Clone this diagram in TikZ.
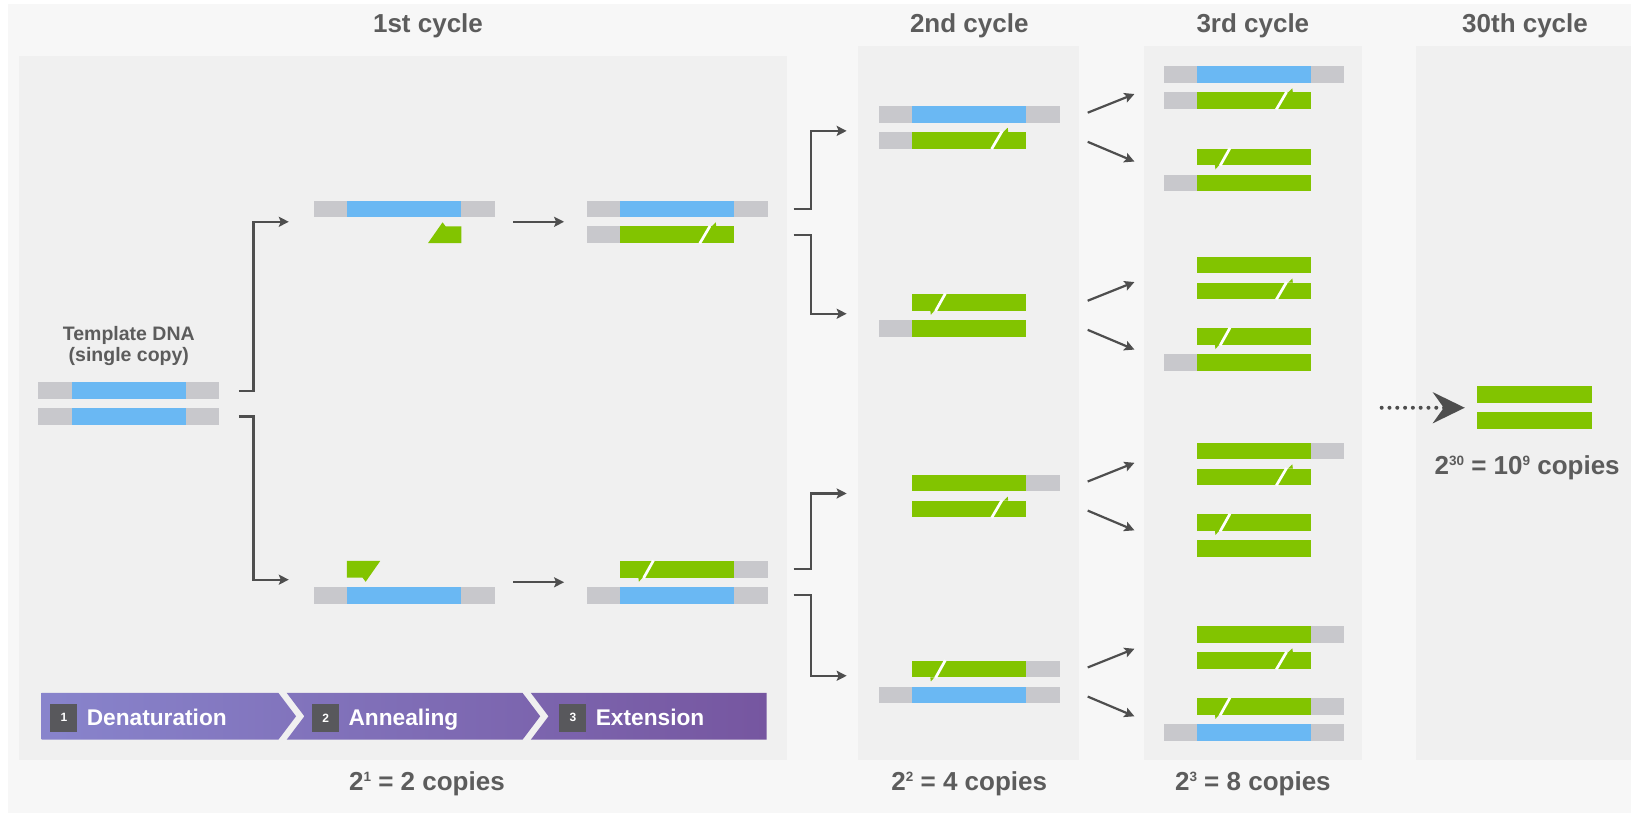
\documentclass[tikz,border=0pt]{standalone}
\usepackage{fontspec}
\setmainfont{Liberation Sans}
\usepackage{xcolor}
\usetikzlibrary{arrows.meta}
\usetikzlibrary{positioning}
\usetikzlibrary{calc}

\definecolor{dnablue}{RGB}{106,184,243}
\definecolor{dnagreen}{RGB}{130,196,0}
\definecolor{endgray}{RGB}{200,200,204}
\definecolor{panelgray}{RGB}{240,240,240}
\definecolor{pagegray}{RGB}{247,247,247}
\definecolor{labelgray}{RGB}{92,92,92}
\definecolor{arrowgray}{RGB}{78,78,78}
\definecolor{steplight}{RGB}{136,132,204}
\definecolor{stepdark}{RGB}{118,86,160}
\definecolor{stepbox}{RGB}{88,88,92}

% small raised digits
\newcommand{\sups}[1]{\raisebox{9pt}{\fontsize{13.5}{13.5}\selectfont #1}}
% one strand: #1 left end, #2 top, #3 grey left end, #4 colour, #5 grey right end
\newcommand{\strand}[5]{%
	\ifnum#3=1 \fill[endgray] (#1,#2) rectangle ++(32,16);\fi
	\fill[#4] (#1+32,#2) rectangle ++(110,16);
	\ifnum#5=1 \fill[endgray] (#1+142,#2) rectangle ++(32,16);\fi
}
% primer joined on the right, tip up
\newcommand{\cutR}[2]{%
	\draw[cutline] (#1+108.5,#2+16.5) -- (#1+118.5,#2-0.5);
	\fill[dnagreen] (#1+120,#2) -- (#1+124,#2-4) -- (#1+124.5,#2) -- cycle;
}
% primer joined on the left, tip down
\newcommand{\cutL}[2]{%
	\draw[cutline] (#1+64,#2-0.5) -- (#1+54.5,#2+16.5);
	\fill[dnagreen] (#1+53.5,#2+16) -- (#1+50,#2+20) -- (#1+49.5,#2+16) -- cycle;
}
% free primers
\newcommand{\primerR}[2]{%
	\fill[dnagreen] (#1+110,#2+16) -- (#1+124,#2-4) -- (#1+127,#2) -- (#1+142,#2) -- (#1+142,#2+16) -- cycle;
}
\newcommand{\primerL}[2]{%
	\fill[dnagreen] (#1+32,#2) -- (#1+64,#2) -- (#1+50,#2+20) -- (#1+47,#2+16) -- (#1+32,#2+16) -- cycle;
}

\begin{document}
\begin{tikzpicture}[x=1.039pt, y=-1.039pt,
		cyclehead/.style={font=\fontsize{26}{31}\selectfont\bfseries, text=labelgray},
		copylabel/.style={font=\fontsize{26}{31}\selectfont\bfseries, text=labelgray},
		numbox/.style={fill=stepbox, text=white, minimum width=27pt, minimum height=28pt, inner sep=0pt, font=\fontsize{12}{12}\selectfont\bfseries},
		steplabel/.style={text=white, inner sep=0pt, text height=16pt, text depth=0pt, font=\fontsize{22.7}{26}\selectfont\bfseries},
		conn/.style={draw=arrowgray, line width=2.2pt, -{Stealth[length=10pt,width=10pt,inset=2pt]}},
		cutline/.style={draw=white, line width=2.7pt},
	]
	% background and panels
	\useasboundingbox (0,0) rectangle (1570,782.5);
	\fill[white] (0,0) rectangle (1570,782.5);
	\fill[pagegray] (8,4) rectangle (1570,782.5);
	\fill[panelgray] (18,54) rectangle (758,732);
	\fill[panelgray] (826,44) rectangle (1039,732);
	\fill[panelgray] (1101,44) rectangle (1311,732);
	\fill[panelgray] (1363,44) rectangle (1570,732);
	
	% headings
	\node[cyclehead] (head1) at (412,25) {1st cycle};
	\node[cyclehead] (head2) at (933,25) {2nd cycle};
	\node[cyclehead] (head3) at (1206,25) {3rd cycle};
	\node[cyclehead] (head30) at (1468,25) {30th cycle};
	\node[copylabel] (copy1) at (411,754.5) {2\sups{1} = 2 copies};
	\node[copylabel] (copy2) at (933,754.5) {2\sups{2} = 4 copies};
	\node[copylabel] (copy3) at (1206,754.5) {2\sups{3} = 8 copies};
	\node[copylabel] (copy30) at (1470,450) {2\sups{30} = 10\sups{9} copies};
	
	% template
	\node[font=\fontsize{19.5}{21}\selectfont\bfseries, text=labelgray, align=center] (tmplabel) at (124,333.5) {Template DNA\\(single copy)};
	\strand{37}{368}{1}{dnablue}{1}
	\strand{37}{393}{1}{dnablue}{1}
	\coordinate (tmp) at (124,388.5);
	
	% annealing
	\strand{302}{193}{1}{dnablue}{1}
	\primerR{302}{218}
	\coordinate (ann1) at (389,213.5);
	\primerL{302}{540}
	\strand{302}{565}{1}{dnablue}{1}
	\coordinate (ann2) at (389,560.5);
	
	% extension
	\strand{565}{193}{1}{dnablue}{1}
	\strand{565}{218}{1}{dnagreen}{0} \cutR{565}{218}
	\coordinate (ext1) at (652,213.5);
	\strand{565}{540}{0}{dnagreen}{1} \cutL{565}{540}
	\strand{565}{565}{1}{dnablue}{1}
	\coordinate (ext2) at (652,560.5);
	
	% 2nd cycle
	\strand{846}{102}{1}{dnablue}{1}
	\strand{846}{127}{1}{dnagreen}{0} \cutR{846}{127}
	\coordinate (c2a) at (933,122.5);
	\strand{846}{283}{0}{dnagreen}{0} \cutL{846}{283}
	\strand{846}{308}{1}{dnagreen}{0}
	\coordinate (c2b) at (933,303.5);
	\strand{846}{457}{0}{dnagreen}{1}
	\strand{846}{482}{0}{dnagreen}{0} \cutR{846}{482}
	\coordinate (c2c) at (933,477.5);
	\strand{846}{636}{0}{dnagreen}{1} \cutL{846}{636}
	\strand{846}{661}{1}{dnablue}{1}
	\coordinate (c2d) at (933,656.5);
	
	% 3rd cycle
	\strand{1120}{64}{1}{dnablue}{1}
	\strand{1120}{89}{1}{dnagreen}{0} \cutR{1120}{89}
	\strand{1120}{143}{0}{dnagreen}{0} \cutL{1120}{143}
	\strand{1120}{168}{1}{dnagreen}{0}
	\strand{1120}{247}{0}{dnagreen}{0}
	\strand{1120}{272}{0}{dnagreen}{0} \cutR{1120}{272}
	\strand{1120}{316}{0}{dnagreen}{0} \cutL{1120}{316}
	\strand{1120}{341}{1}{dnagreen}{0}
	\strand{1120}{426}{0}{dnagreen}{1}
	\strand{1120}{451}{0}{dnagreen}{0} \cutR{1120}{451}
	\strand{1120}{495}{0}{dnagreen}{0} \cutL{1120}{495}
	\strand{1120}{520}{0}{dnagreen}{0}
	\strand{1120}{603}{0}{dnagreen}{1}
	\strand{1120}{628}{0}{dnagreen}{0} \cutR{1120}{628}
	\strand{1120}{672}{0}{dnagreen}{1} \cutL{1120}{672}
	\strand{1120}{697}{1}{dnablue}{1}
	
	% 30th cycle
	\strand{1390}{372}{0}{dnagreen}{0}
	\strand{1390}{397}{0}{dnagreen}{0}
	\coordinate (c30) at (1477,392.5);
	\draw[draw=arrowgray, line width=4pt, line cap=round, dash pattern=on 0pt off 7.8pt, -{Stealth[length=32pt,width=31pt,inset=11pt]}] ($(c30)+(-147,0)$) -- ($(c30)+(-67,0)$);
	
	% template to annealing
	\draw[conn] ($(tmp)+(106,-12.5)$) -- ++(14,0) |- ($(ann1)+(-111,0)$);
	\draw[conn] ($(tmp)+(106,12.5)$) -- ++(14,0) |- ($(ann2)+(-111,-2.5)$);
	% annealing to extension
	\draw[conn] ($(ann1)+(105,0)$) -- ($(ext1)+(-109,0)$);
	\draw[conn] ($(ann2)+(105,0)$) -- ($(ext2)+(-109,0)$);
	% extension to 2nd cycle
	\draw[conn] ($(ext1)+(112,-12.5)$) -- ++(17,0) |- ($(c2a)+(-118,3.5)$);
	\draw[conn] ($(ext1)+(112,12.5)$) -- ++(17,0) |- ($(c2b)+(-118,-1.5)$);
	\draw[conn] ($(ext2)+(112,-12.5)$) -- ++(17,0) |- ($(c2c)+(-118,-2.5)$);
	\draw[conn] ($(ext2)+(112,12.5)$) -- ++(17,0) |- ($(c2d)+(-118,-6)$);
	% 2nd to 3rd cycle
	\foreach \p in {c2a,c2b,c2c,c2d}{
		\draw[conn] ($(\p)+(114,-14)$) -- ($(\p)+(159,-32)$);
		\draw[conn] ($(\p)+(114,14)$) -- ($(\p)+(159,33)$);
	}
	
	% steps
	\shade[left color=steplight, right color=stepdark]
		(40,667) -- (268,667) -- (285,689.5) -- (268,712) -- (40,712) -- cycle
		(276,667) -- (503,667) -- (520,689.5) -- (503,712) -- (276,712) -- (293,689.5) -- cycle
		(511,667) -- (738,667) -- (738,712) -- (511,712) -- (528,689.5) -- cycle;
	\node[numbox] (s1) at (61.5,691) {1};
	\node[steplabel, right=9pt of s1] (den) {Denaturation};
	\node[numbox] (s2) at (313.5,691) {2};
	\node[steplabel, right=9pt of s2] (ann) {Annealing};
	\node[numbox] (s3) at (551.5,691) {3};
	\node[steplabel, right=9pt of s3] (ext) {Extension};
\end{tikzpicture}
\end{document}
